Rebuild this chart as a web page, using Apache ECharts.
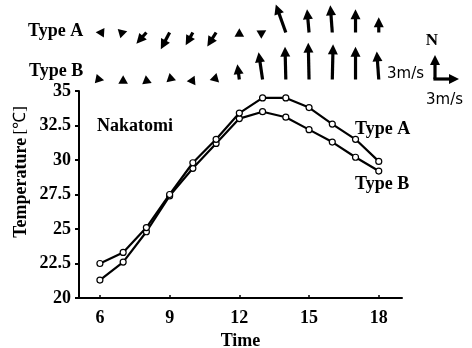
<!DOCTYPE html>
<html><head><meta charset="utf-8">
<script src="https://cdn.jsdelivr.net/npm/echarts@6/dist/echarts.min.js"></script>
<style>html,body{margin:0;padding:0;background:#fff}#c{width:472px;height:348px}</style>
</head><body><div id="c"></div>
<script>
// ---- data ----
const hours = [6,7,8,9,10,11,12,13,14,15,16,17,18];
const tempA = [22.5,23.3,25.1,27.5,29.8,31.5,33.4,34.5,34.5,33.8,32.6,31.5,29.9];
const tempB = [21.3,22.6,24.8,27.4,29.4,31.2,33.0,33.5,33.1,32.2,31.3,30.2,29.2];
// wind components (m/s): u = eastward, v = northward
const windAu = [-0.75, 0.7,-1.25,-1.1,-0.9,-1.1, 0.0, 0.6,-1.25,-0.25,-0.25, 0.0, 0.0];
const windAv = [ 0.05, 0.2,-1.4, -2.1,-1.6,-1.75,0.75,0.35, 3.5, 2.9, 3.4, 2.9, 1.9];
const windBu = [ 0.75, 0.0,-0.1,-0.5, 0.3, 0.5,-0.25,-0.5,-0.1,-0.1, 0.1, 0.0,-0.25];
const windBv = [-0.15, 0.75,0.75,-0.45,0.65,-0.5, 1.9, 3.4, 4.1, 4.6, 4.4, 4.1, 3.5];
const xTickLabels = [6,9,12,15,18];
const yTickLabels = [20,22.5,25,27.5,30,32.5,35];
const rows = ['Type B','Type A'];
const refSpeed = 3; // m/s key

// ---- styling constants ----
const S = 8;            // px per m/s for wind arrows
const HEAD = 10, HALF = 5;
const SERIF = '"Liberation Serif","Times New Roman",serif';

function arrowChildren(x0, y0, dx, dy) {
  const len = Math.hypot(dx, dy);
  const ux = dx / len, uy = dy / len;
  const px = -uy, py = ux;
  let tipX, tipY;
  const ch = [];
  if (len < HEAD) {
    const h = 8.5, w = 4.8;
    tipX = x0 + ux * h / 2; tipY = y0 + uy * h / 2;
    const bx = tipX - ux * h, by = tipY - uy * h;
    ch.push({type:'polygon', shape:{points:[[tipX,tipY],[bx+px*w,by+py*w],[bx-px*w,by-py*w]]}, style:{fill:'#000'}});
    return ch;
  }
  tipX = x0 + dx; tipY = y0 + dy;
  const bx = tipX - ux * HEAD, by = tipY - uy * HEAD;
  ch.push({type:'line', shape:{x1:x0,y1:y0,x2:bx+ux*1,y2:by+uy*1}, style:{stroke:'#000', lineWidth:3.2}});
  ch.push({type:'polygon', shape:{points:[[tipX,tipY],[bx+px*HALF,by+py*HALF],[bx-px*HALF,by-py*HALF]]}, style:{fill:'#000'}});
  return ch;
}

const windData = [];
hours.forEach((h,i)=>{ windData.push([h, 1, windAu[i], windAv[i]]); });
hours.forEach((h,i)=>{ windData.push([h, 0, windBu[i], windBv[i]]); });

const chart = echarts.init(document.getElementById('c'), null, {renderer:'canvas'});

const labelFont = {fontFamily: SERIF, fontWeight:'bold', fontSize:18, color:'#000'};

// key arrows
const kx = 435, ky = 79;
const keyChildren = [].concat(
  arrowChildren(kx, ky, 0, -refSpeed*S),
  arrowChildren(kx-1.6, ky, refSpeed*S+1.6, 0)
);

chart.setOption({
  animation:false,
  backgroundColor:'#fff',
  grid:[
    {left:79, right:70, top:91, bottom:50, containLabel:false, outerBoundsMode:'none'},
    {left:79, right:70, top:9, height:94, containLabel:false, outerBoundsMode:'none'}
  ],
  xAxis:[
    {type:'value', gridIndex:0, min:5.1, max:19,
     axisLine:{show:true, lineStyle:{color:'#000', width:2}},
     axisTick:{show:true, inside:true, length:3, lineStyle:{color:'#000', width:1.5}, customValues:xTickLabels},
     axisLabel:Object.assign({margin:11, customValues:xTickLabels}, labelFont),
     splitLine:{show:false},
     name:'Time', nameLocation:'middle', nameGap:27,
     nameTextStyle:labelFont},
    {type:'value', gridIndex:1, min:5.1, max:19, show:false}
  ],
  yAxis:[
    {type:'value', gridIndex:0, min:20, max:35, interval:2.5,
     axisLine:{show:true, lineStyle:{color:'#000', width:2}},
     axisTick:{show:true, length:4, lineStyle:{color:'#000', width:2}},
     axisLabel:Object.assign({margin:8, formatter:(v)=>String(v)}, labelFont),
     splitLine:{show:false}},
    {type:'category', gridIndex:1, data:rows, show:false}
  ],
  series:[
    {type:'line', name:'Type B', xAxisIndex:0, yAxisIndex:0,
     data:hours.map((h,i)=>[h,tempB[i]]),
     symbol:'circle', symbolSize:6, showAllSymbol:true,
     lineStyle:{color:'#000', width:2.2},
     itemStyle:{color:'#fff', borderColor:'#000', borderWidth:1.2}, z:3},
    {type:'line', name:'Type A', xAxisIndex:0, yAxisIndex:0,
     data:hours.map((h,i)=>[h,tempA[i]]),
     symbol:'circle', symbolSize:6, showAllSymbol:true,
     lineStyle:{color:'#000', width:2.2},
     itemStyle:{color:'#fff', borderColor:'#000', borderWidth:1.2}, z:4},
    {type:'custom', name:'wind', xAxisIndex:1, yAxisIndex:1, data:windData,
     encode:{x:0, y:1},
     renderItem:function(params, api){
       const p = api.coord([api.value(0), api.value(1)]);
       const dx = api.value(2)*S, dy = -api.value(3)*S;
       return {type:'group', children:arrowChildren(p[0], p[1], dx, dy)};
     }, z:5}
  ],
  graphic:[
    {type:'text', x:28, y:31, style:{text:'Type A', font:'bold 18px '+SERIF, fill:'#000', align:'left', verticalAlign:'middle'}},
    {type:'text', x:29, y:71, style:{text:'Type B', font:'bold 18px '+SERIF, fill:'#000', align:'left', verticalAlign:'middle'}},
    {type:'text', x:97, y:126, style:{text:'Nakatomi', font:'bold 18px '+SERIF, fill:'#000', align:'left', verticalAlign:'middle'}},
    {type:'text', x:355, y:129, style:{text:'Type A', font:'bold 18px '+SERIF, fill:'#000', align:'left', verticalAlign:'middle'}},
    {type:'text', x:355, y:184, style:{text:'Type B', font:'bold 18px '+SERIF, fill:'#000', align:'left', verticalAlign:'middle'}},
    {type:'text', x:21, y:172, rotation:Math.PI/2, style:{
      text:'{b|Temperature} {n|[℃]}', align:'center', verticalAlign:'middle',
      rich:{b:{font:'bold 18px '+SERIF, fill:'#000'}, n:{font:'17px '+SERIF, fill:'#000'}}}},
    {type:'text', x:432, y:41, style:{text:'N', font:'bold 17px '+SERIF, fill:'#000', align:'center', verticalAlign:'middle'}},
    {type:'text', x:387, y:74, style:{text:'3m/s', font:'15px "DejaVu Sans"', fill:'#000', align:'left', verticalAlign:'middle'}},
    {type:'text', x:426, y:100, style:{text:'3m/s', font:'15px "DejaVu Sans"', fill:'#000', align:'left', verticalAlign:'middle'}},
    {type:'group', children:keyChildren}
  ]
});
</script></body></html>
